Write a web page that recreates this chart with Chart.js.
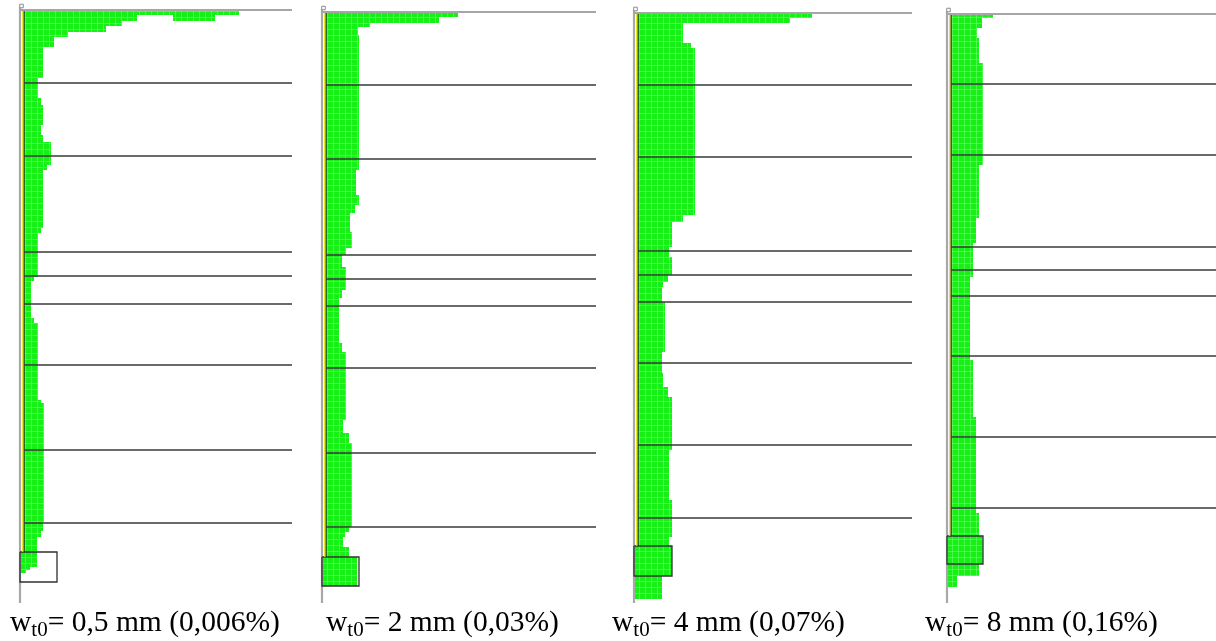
<!DOCTYPE html>
<html>
<head>
<meta charset="utf-8">
<script src="https://cdn.jsdelivr.net/npm/chart.js@4.4.1/dist/chart.umd.min.js"></script>
<style>
html, body { margin: 0; padding: 0; background: #fff; }
body { width: 1216px; height: 641px; position: relative; overflow: hidden; }
.pane { position: absolute; top: 0; height: 641px; }
.cap {
    position: absolute; top: 606px; white-space: nowrap; color: #000;
    font-family: 'Liberation Serif', 'Times New Roman', serif; font-size: 29.5px; line-height: 30px;
}
.cap sub { font-size: 21px; line-height: 0; vertical-align: -5px; }
</style>
</head>
<body>
<script>
// imposed displacement for each case
const wt0 = ['0,5', '2', '4', '8'];
const wt0Pct = ['0,006', '0,03', '0,07', '0,16'];

// damage profile along the wall: level (from top) where a step starts, and its extent
const p1Levels = [0, 5, 11, 16, 22, 27, 37, 68, 88, 95, 115, 125, 132, 155, 160, 218, 223, 267, 271, 308, 313, 390, 393, 512, 521, 527];
const p1Widths = [219, 117, 102, 86, 48, 34, 23, 18, 21, 23, 21, 23, 31, 27, 23, 21, 18, 14, 11, 14, 18, 21, 24, 23, 21, 17];
const p1WallEnd = 542;
const p1Floors = [73, 146, 242, 266, 294, 355, 440, 513];
const p1FootLevels = [542, 557, 560];
const p1FootWidths = [17, 10, 6];
const p1FootEnd = 563;
const p1Footing = [37, 542, 572];
const p1Patch = [153, 195, 5, 11]; // detached zone near the top

const p2Levels = [0, 5, 11, 15, 23, 158, 183, 193, 201, 220, 236, 243, 255, 278, 286, 331, 340, 408, 421, 431, 515, 520, 525, 535];
const p2Widths = [136, 117, 48, 36, 37, 34, 37, 33, 28, 30, 24, 20, 24, 20, 17, 20, 24, 21, 27, 30, 27, 23, 21, 27];
const p2WallEnd = 545;
const p2Floors = [73, 147, 243, 267, 294, 356, 441, 515];
const p2FootLevels = [545];
const p2FootWidths = [35];
const p2FootEnd = 574;
const p2Footing = [37, 545, 574];

const p3Levels = [0, 5, 10, 30, 35, 202, 209, 234, 244, 262, 269, 274, 289, 339, 360, 374, 384, 437, 487, 524];
const p3Widths = [178, 156, 49, 57, 61, 49, 38, 35, 38, 34, 29, 28, 31, 28, 29, 34, 38, 35, 38, 35];
const p3WallEnd = 533;
const p3Floors = [72, 144, 238, 262, 289, 350, 432, 505];
const p3FootLevels = [533, 563];
const p3FootWidths = [38, 28];
const p3FootEnd = 586;
const p3Footing = [38, 533, 563];

const p4Levels = [0, 4, 14, 24, 49, 151, 204, 229, 263, 346, 403, 499];
const p4Widths = [46, 35, 30, 32, 36, 32, 29, 26, 23, 26, 29, 32];
const p4WallEnd = 522;
const p4Floors = [70, 141, 233, 256, 282, 342, 423, 494];
const p4FootLevels = [522, 550, 562];
const p4FootWidths = [36, 32, 10];
const p4FootEnd = 573;
const p4Footing = [36, 522, 550];

// page layout
const PAD = 12;
const AXIS_BOTTOM = 603;
const WALL = 4;
const panels = [
    { left: 20, top: 10, w: 272, cap: 10, levels: p1Levels, widths: p1Widths, wallEnd: p1WallEnd, floors: p1Floors,
      footLevels: p1FootLevels, footWidths: p1FootWidths, footEnd: p1FootEnd, footing: p1Footing, patch: p1Patch },
    { left: 322, top: 12, w: 274, cap: 326, levels: p2Levels, widths: p2Widths, wallEnd: p2WallEnd, floors: p2Floors,
      footLevels: p2FootLevels, footWidths: p2FootWidths, footEnd: p2FootEnd, footing: p2Footing },
    { left: 634, top: 13, w: 278, cap: 612, levels: p3Levels, widths: p3Widths, wallEnd: p3WallEnd, floors: p3Floors,
      footLevels: p3FootLevels, footWidths: p3FootWidths, footEnd: p3FootEnd, footing: p3Footing },
    { left: 947, top: 14, w: 269, cap: 925, levels: p4Levels, widths: p4Widths, wallEnd: p4WallEnd, floors: p4Floors,
      footLevels: p4FootLevels, footWidths: p4FootWidths, footEnd: p4FootEnd, footing: p4Footing }
];

// green cells with lighter grid lines
function cellPattern() {
    const c = document.createElement('canvas');
    c.width = 6; c.height = 6;
    const g = c.getContext('2d');
    g.fillStyle = '#17f017';
    g.fillRect(0, 0, 6, 6);
    g.fillStyle = 'rgba(140,250,140,0.45)';
    g.fillRect(5, 0, 1, 6);
    g.fillRect(0, 5, 6, 1);
    return g.createPattern(c, 'repeat');
}
const green = cellPattern();

// closed stepped outline from a base line out to the widths
function outline(levels, widths, end, base) {
    const pts = [{ x: base, y: levels[0] }];
    levels.forEach((l, i) => pts.push({ x: widths[i], y: l }));
    pts.push({ x: widths[widths.length - 1], y: end });
    pts.push({ x: base, y: end });
    return pts;
}

function segment(data, color, width, order) {
    return { data, borderColor: color, borderWidth: width, fill: false, order };
}

function buildDatasets(p) {
    const h = AXIS_BOTTOM - p.top;
    const sets = [];
    p.floors.forEach(l => sets.push(segment([{ x: WALL, y: l }, { x: p.w, y: l }], '#383838', 1.4, 0)));
    sets.push(segment([{ x: 0, y: 0 }, { x: p.w, y: 0 }], '#a6a6a6', 2, 0));
    sets.push(segment([{ x: WALL - 1.2, y: 0 }, { x: WALL - 1.2, y: p.wallEnd }], '#e2e200', 1.2, 0));
    sets.push(segment([{ x: WALL, y: 0 }, { x: WALL, y: p.wallEnd }], '#262626', 1.3, 0));
    sets.push(segment([{ x: 0, y: -3 }, { x: 0, y: h }], '#a8a8a8', 2.2, 1));
    const [fw, f0, f1] = p.footing;
    sets.push(segment([{ x: 0, y: f0 }, { x: fw, y: f0 }, { x: fw, y: f1 }, { x: 0, y: f1 }, { x: 0, y: f0 }], '#303030', 1.3, 0));
    sets.push({
        data: [{ x: 1.5, y: -4 }], showLine: false, order: 0,
        pointRadius: 2.5, pointStyle: 'rect', pointBackgroundColor: '#fff', pointBorderColor: '#8c8c8c', pointBorderWidth: 1,
        borderColor: '#8c8c8c'
    });
    sets.push({
        data: outline(p.levels, p.widths, p.wallEnd, WALL), stepped: 'after',
        fill: 'shape', backgroundColor: green, borderColor: 'transparent', borderWidth: 0, order: 2
    });
    sets.push({
        data: outline(p.footLevels, p.footWidths, p.footEnd, 0), stepped: 'after',
        fill: 'shape', backgroundColor: green, borderColor: 'transparent', borderWidth: 0, order: 2
    });
    if (p.patch) {
        const [a, b, t, u] = p.patch;
        sets.push({
            data: [{ x: a, y: t }, { x: b, y: t }, { x: b, y: u }, { x: a, y: u }],
            fill: 'shape', backgroundColor: green, borderColor: 'transparent', borderWidth: 0, order: 2
        });
    }
    return sets;
}

panels.forEach((p, i) => {
    const paneLeft = p.left - PAD;
    const paneWidth = Math.min(p.w + PAD + 2, 1216 - paneLeft);
    const pane = document.createElement('div');
    pane.className = 'pane';
    pane.style.left = paneLeft + 'px';
    pane.style.width = paneWidth + 'px';
    const canvas = document.createElement('canvas');
    pane.appendChild(canvas);
    document.body.appendChild(pane);

    new Chart(canvas, {
        type: 'line',
        data: { datasets: buildDatasets(p) },
        options: {
            responsive: true,
            maintainAspectRatio: false,
            animation: false,
            events: [],
            indexAxis: 'y',
            layout: {
                autoPadding: false,
                padding: { left: PAD, right: paneWidth - PAD - p.w, top: p.top, bottom: 641 - AXIS_BOTTOM }
            },
            plugins: { legend: { display: false }, tooltip: { enabled: false } },
            datasets: { line: { clip: false, pointRadius: 0, tension: 0 } },
            scales: {
                x: { type: 'linear', min: 0, max: p.w, display: false },
                y: { type: 'linear', min: 0, max: AXIS_BOTTOM - p.top, reverse: true, display: false }
            }
        }
    });

    const cap = document.createElement('div');
    cap.className = 'cap';
    cap.style.left = p.cap + 'px';
    cap.innerHTML = `w<sub>t0</sub>= ${wt0[i]} mm (${wt0Pct[i]}%)`;
    document.body.appendChild(cap);
});
</script>
</body>
</html>
